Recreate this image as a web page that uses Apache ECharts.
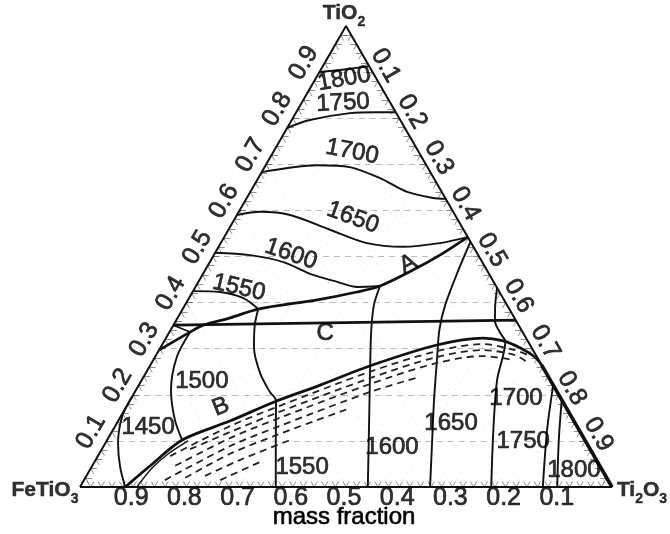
<!DOCTYPE html>
<html>
<head>
<meta charset="utf-8">
<script src="https://cdn.jsdelivr.net/npm/echarts@6/dist/echarts.min.js"></script>
<style>html,body{margin:0;background:#fff}#chart{width:670px;height:534px}</style>
</head>
<body>
<div id="chart"></div>
<script>
// Liquidus projection of the FeTiO3 – TiO2 – Ti2O3 system (mass fraction).
// Every composition is written as [TiO2, Ti2O3]; FeTiO3 = 1 - TiO2 - Ti2O3.

// Scale values on the three sides
const bottomTicks = [0.9, 0.8, 0.7, 0.6, 0.5, 0.4, 0.3, 0.2, 0.1]; // FeTiO3
const leftTicks   = [0.1, 0.2, 0.3, 0.4, 0.5, 0.6, 0.7, 0.8, 0.9]; // TiO2
const rightTicks  = [0.1, 0.2, 0.3, 0.4, 0.5, 0.6, 0.7, 0.8, 0.9]; // Ti2O3
const gridSteps   = [0.1, 0.2, 0.3, 0.4, 0.5, 0.6, 0.7, 0.8, 0.9];

// Isotherms, upper field (degrees C)
const iso1800Top = [[0.900,0],[0.905,0.040],[0.913,0.087]];
const iso1750Top = [[0.779,0],[0.796,0.034],[0.811,0.102],[0.813,0.152],[0.813,0.187]];
const iso1700Top = [[0.683,0],[0.698,0.097],[0.694,0.160],[0.670,0.229],[0.640,0.295],[0.627,0.350],[0.625,0.375]];
const iso1650Top = [[0.590,0],[0.597,0.040],[0.590,0.100],[0.558,0.191],[0.529,0.275],[0.521,0.347],[0.529,0.412],[0.542,0.458]];
const iso1600Top = [[0.508,0],[0.503,0.068],[0.488,0.138],[0.460,0.208],[0.445,0.261],[0.434,0.304],[0.436,0.346]];
const iso1550Top = [[0.425,0],[0.423,0.052],[0.410,0.101],[0.386,0.142]];

// Isotherms, lower fields
const iso1500    = [[0.336,0.039],[0.282,0.041],[0.210,0.066],[0.145,0.106],[0.102,0.141]];
const iso1450    = [[0.195,0],[0.152,0.003],[0.095,0.024],[0.043,0.054],[0,0.085]];
const iso1550Low = [[0.386,0.142],[0.351,0.153],[0.304,0.175],[0.247,0.215],[0.206,0.254],[0.187,0.275],[0.102,0.317],[0,0.368]];
const iso1600Low = [[0.436,0.346],[0.395,0.355],[0.341,0.377],[0.265,0.413],[0.145,0.471],[0,0.541]];
const iso1650Low = [[0.532,0.468],[0.464,0.477],[0.395,0.489],[0.341,0.505],[0.276,0.533],[0.189,0.571],[0.102,0.611],[0,0.658]];
const iso1700Low = [[0.432,0.568],[0.395,0.583],[0.360,0.600],[0.334,0.623],[0.315,0.642],[0.232,0.668],[0.124,0.715],[0,0.773]];
const iso1750Low = [[0.221,0.779],[0.124,0.816],[0,0.870]];
const iso1800Low = [[0.189,0.811],[0.102,0.849],[0,0.897]];

// Field boundaries A, B, C
const boundaryA = [[0.297,0],[0.336,0.039],[0.351,0.056],[0.367,0.099],[0.386,0.142],[0.406,0.243],[0.423,0.309],[0.436,0.346],[0.471,0.391],[0.503,0.425],[0.542,0.458]];
const boundaryB = [[0,0.085],[0.046,0.109],[0.102,0.141],[0.143,0.210],[0.187,0.277],[0.221,0.341],[0.263,0.414],[0.308,0.517],[0.323,0.596],[0.317,0.637],[0.302,0.676],[0.282,0.714],[0.265,0.735]];
const boundaryBEdge = [[0.265,0.735],[0,1]];
const boundaryC = [[0.351,0],[0.362,0.638]];
const tieC = [[0.351,0],[0.336,0.039]];
const miscibilityEdge = [[0,0.107],[0.041,0.115],[0.072,0.130],[0.100,0.153]];

// Two-liquid region, dashed rows
const hatchRows = [
  [[0.067,0.136],[0.132,0.216],[0.174,0.284],[0.250,0.420],[0.295,0.524],[0.310,0.602],[0.297,0.669],[0.284,0.704]],
  [[0.082,0.166],[0.119,0.222],[0.161,0.290],[0.236,0.427],[0.282,0.530],[0.297,0.609],[0.286,0.675],[0.271,0.705]],
  [[0.046,0.156],[0.106,0.229],[0.148,0.297],[0.223,0.433],[0.269,0.537],[0.284,0.615],[0.276,0.674]],
  [[0.015,0.152],[0.089,0.238],[0.130,0.305],[0.206,0.442],[0.239,0.520]],
  [[0.020,0.188],[0.072,0.246],[0.113,0.314],[0.171,0.422]],
  [[0.024,0.223],[0.059,0.272],[0.102,0.344]],
  [[0.015,0.256],[0.054,0.311]]
];

// Text written inside the diagram and the composition it sits on
const fieldTexts = ['1800','1750','1700','1650','1600','1550','A','C','B','1500','1450','1550','1600','1650','1700','1750','1800'];
const fieldAt = [[0.885,0.054],[0.833,0.078],[0.727,0.148],[0.584,0.221],[0.505,0.144],[0.432,0.083],[0.484,0.375],[0.334,0.294],[0.174,0.178],[0.230,0.114],[0.130,0.063],[0.043,0.396],[0.087,0.543],[0.137,0.629],[0.193,0.723],[0.098,0.784],[0.037,0.910]];
const fieldTilt = [10, 3, -11, -20, -19, -13, 27, 0, 22, 0, 0, 0, 0, 0, 0, 0, 0];

// ---- drawing ----
const W = 532, H = 461;            // triangle base and height in pixels
const FONT = '"Liberation Sans", Arial, Helvetica, sans-serif';
const cart = p => [p[1] + p[0] / 2, p[0]];
const nudge = (xy, dx, dy) => [xy[0] + dx / W, xy[1] - dy / H];

function curve(points, width, extra) {
  return Object.assign({
    type: 'line', data: points.map(cart), symbol: 'none', smooth: 0.3,
    clip: false, silent: true, animation: false, z: 5,
    lineStyle: { color: '#111', width: width }
  }, extra || {});
}
function segments(list, style, z) {
  return {
    type: 'lines', coordinateSystem: 'cartesian2d', silent: true, animation: false, z: z || 1,
    data: list.map(s => ({ coords: s.map(cart) })), lineStyle: style
  };
}

// reference grid
const hLines = gridSteps.map(t => [[t, 0], [t, 1 - t]]);
const dLines = [];
gridSteps.forEach(v => {
  dLines.push([[0, v], [1 - v, v]]);     // constant Ti2O3
  dLines.push([[0, 1 - v], [1 - v, 0]]); // constant FeTiO3
});
// edge ticks every 0.02
const tk = [];
const L = 0.012;
for (let i = 1; i < 50; i++) {
  const v = i / 50;
  tk.push([[0, v], [L, v]], [[0, v], [L, v - L]]);
  tk.push([[v, 0], [v, L]], [[v, 0], [v - L, L]]);
  tk.push([[1 - v, v], [1 - v, v - L]], [[1 - v, v], [1 - v - L, v]]);
}

const labelBase = {
  show: true, position: 'inside', color: '#000', fontFamily: FONT, fontSize: 24,
  textBorderColor: '#000', textBorderWidth: 0.7
};
function textPoints(items, extraLabel) {
  return {
    type: 'scatter', symbolSize: 1, itemStyle: { color: 'rgba(0,0,0,0)' }, clip: false, silent: true, animation: false, z: 10,
    label: Object.assign({}, labelBase, extraLabel || {}),
    labelLayout: { hideOverlap: false },
    data: items.map(it => ({ value: it.xy, label: { show: true, formatter: it.text, rotate: it.rot || 0 } }))
  };
}

const fieldItems = fieldTexts.map((s, i) => ({ text: s, xy: cart(fieldAt[i]), rot: fieldTilt[i] }));
const leftItems = leftTicks.map(v => ({ text: v.toFixed(1), xy: nudge(cart([v, 0]), -0.866 * 18, -0.5 * 18), rot: 60 }));
const rightItems = rightTicks.map(v => ({ text: v.toFixed(1), xy: nudge(cart([1 - v, v]), 0.866 * 15, -0.5 * 15 + 1), rot: -60 }));
const bottomItems = bottomTicks.map(f => ({ text: f.toFixed(1), xy: nudge(cart([0, 1 - f]), -2, 11) }));

const series = [
  segments(hLines, { color: '#777', width: 1, type: [6, 5] }, 1),
  segments(dLines, { color: '#bbb', width: 1, type: [1, 7] }, 1),
  segments(tk, { color: '#222', width: 1 }, 2),
  curve([[0,0],[0,1],[1,0],[0,0]], 2, { smooth: false, z: 6 }),
  curve(iso1800Top, 1.9), curve(iso1750Top, 1.9), curve(iso1700Top, 1.9),
  curve(iso1650Top, 1.9), curve(iso1600Top, 1.9), curve(iso1550Top, 1.9),
  curve(iso1500, 1.9), curve(iso1450, 1.9), curve(iso1550Low, 1.9),
  curve(iso1600Low, 1.9), curve(iso1650Low, 1.9), curve(iso1700Low, 1.9),
  curve(iso1750Low, 1.9), curve(iso1800Low, 1.9),
  curve(boundaryA, 2.8), curve(boundaryB, 2.8), curve(boundaryBEdge, 3.6, { smooth: false }),
  curve(boundaryC, 2.8, { smooth: false }), curve(tieC, 1.6, { smooth: false }),
  curve(miscibilityEdge, 1.4)
];
hatchRows.forEach(r => series.push(curve(r, 1.8, { lineStyle: { color: '#222', width: 1.8, type: [7, 5] } })));
series.push(textPoints(fieldItems));
series.push(textPoints(leftItems, { fontSize: 25 }));
series.push(textPoints(rightItems, { fontSize: 25 }));
series.push(textPoints(bottomItems, { fontSize: 25 }));
// corner components
series.push({
  type: 'scatter', symbolSize: 1, itemStyle: { color: 'rgba(0,0,0,0)' }, clip: false, silent: true, animation: false, z: 10,
  labelLayout: { hideOverlap: false },
  label: {
    show: true, position: 'inside', color: '#000', fontFamily: FONT,
    rich: {
      m: { fontSize: 21, fontWeight: 'bold', fontFamily: FONT, color: '#000', lineHeight: 26, verticalAlign: 'top', textBorderColor: '#000', textBorderWidth: 0.5 },
      s: { fontSize: 14, fontWeight: 'bold', fontFamily: FONT, color: '#000', lineHeight: 26, verticalAlign: 'bottom', textBorderColor: '#000', textBorderWidth: 0.4 }
    }
  },
  data: [
    { value: nudge(cart([1, 0]), -2, -10), label: { show: true, formatter: '{m|TiO}{s|2}' } },
    { value: nudge(cart([0, 0]), -35, 6), label: { show: true, formatter: '{m|FeTiO}{s|3}' } },
    { value: nudge(cart([0, 1]), 30, 6), label: { show: true, formatter: '{m|Ti}{s|2}{m|O}{s|3}' } }
  ]
});

const chart = echarts.init(document.getElementById('chart'), null, { renderer: 'canvas' });
chart.setOption({
  backgroundColor: '#fff',
  animation: false,
  grid: { left: 80, top: 26, width: W, height: H, containLabel: false },
  xAxis: { type: 'value', min: 0, max: 1, show: false },
  yAxis: { type: 'value', min: 0, max: 1, show: false },
  graphic: [{
    type: 'text', x: 344, y: 517,
    style: {
      text: 'mass fraction', fontFamily: FONT, fontSize: 24, fill: '#000', stroke: '#000', lineWidth: 0.6,
      textAlign: 'center', textVerticalAlign: 'middle', verticalAlign: 'middle'
    }
  }],
  series: series
});
</script>
</body>
</html>
